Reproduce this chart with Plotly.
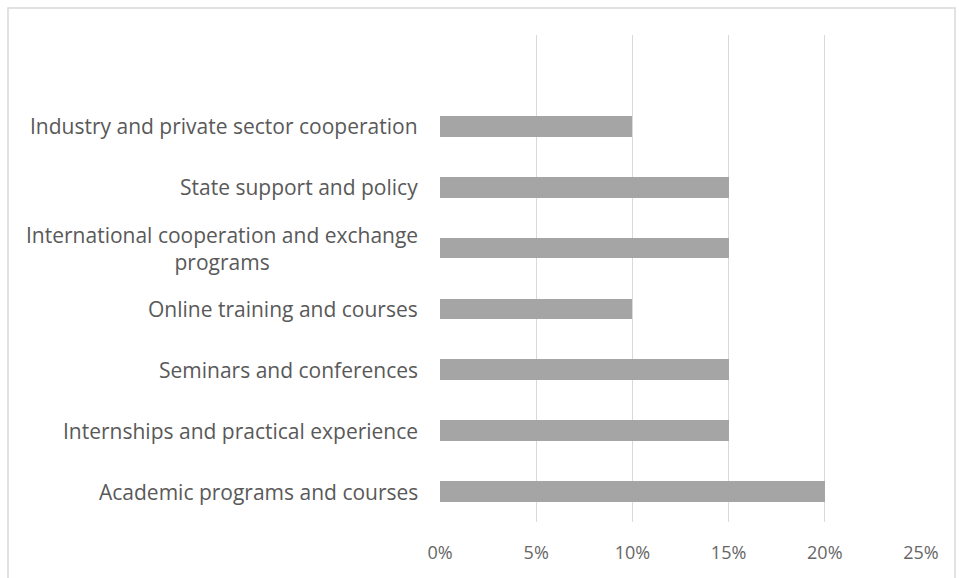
import plotly.graph_objects as go

categories = [
    "Academic programs and courses",
    "Internships and practical experience",
    "Seminars and conferences",
    "Online training and courses",
    "International cooperation and exchange<br>programs",
    "State support and policy",
    "Industry and private sector cooperation",
]
values = [0.20, 0.15, 0.15, 0.10, 0.15, 0.15, 0.10]
x_ticks = [0, 0.05, 0.10, 0.15, 0.20, 0.25]
x_tick_labels = ["0%", "5%", "10%", "15%", "20%", "25%"]

W, H = 959, 578
L, R, T, B = 440, 38, 35, 56

fig = go.Figure()
fig.add_trace(go.Bar(
    x=values, y=list(range(len(categories))), orientation="h",
    marker=dict(color="#a5a5a5", line=dict(width=0)),
    width=0.34, hoverinfo="skip",
))

font_col = "#595959"
fam = "Open Sans, Liberation Sans, sans-serif"
for i, c in enumerate(categories):
    fig.add_annotation(
        x=0, xref="paper", y=i, yref="y", text=c, showarrow=False,
        xanchor="right", yanchor="middle", align="center", xshift=-20,
        font=dict(family=fam, size=21, color=font_col),
    )

pw = W - L - R
ph = H - T - B
fig.add_shape(type="rect", xref="paper", yref="paper",
              x0=(8 - L) / pw, x1=(955 - L) / pw,
              y0=-(590 - (H - B)) / ph,
              y1=(H - B - 8) / ph,
              line=dict(color="#d9d9d9", width=1.5), layer="below")

fig.update_layout(
    width=W, height=H,
    margin=dict(l=L, r=R, t=T, b=B, autoexpand=False),
    paper_bgcolor="white", plot_bgcolor="white",
    showlegend=False,
    xaxis=dict(range=[0, 0.25], tickvals=x_ticks, ticktext=x_tick_labels,
               showgrid=True, gridcolor="#d9d9d9", gridwidth=1,
               zeroline=False, showline=False, ticks="",
               ticklabelstandoff=18,
               tickfont=dict(family=fam, size=18, color="#666666")),
    yaxis=dict(range=[-0.5, 7.5], showticklabels=False, showgrid=False,
               zeroline=False, showline=False, ticks=""),
    bargap=0,
)

fig.write_html("out.html")
